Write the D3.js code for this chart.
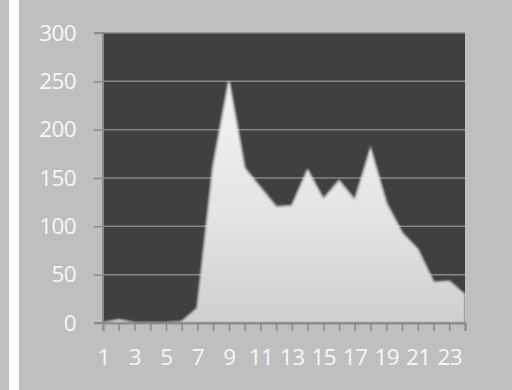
<!DOCTYPE html>
<html><head><meta charset="utf-8">
<script src="https://cdn.jsdelivr.net/npm/d3@7"></script>
<style>html,body{margin:0;padding:0;background:#bfbfbf;}svg{display:block;}</style>
</head><body>
<script>
const categories = d3.range(1, 25);
const values = [0, 3, 0, 0, 0, 1, 15, 162, 250, 160, 140, 120, 121, 158, 128, 147, 127, 180, 124, 93, 76, 42, 43, 29];
const yTicks = [0, 50, 100, 150, 200, 250, 300];
const xTickLabels = categories.filter(c => c % 2 === 1);

const W = 512, H = 390;
const svg = d3.select("body").append("svg").attr("width", W).attr("height", H);
svg.append("rect").attr("width", W).attr("height", H).attr("fill", "#bfbfbf");
svg.append("rect").attr("x", 9).attr("y", 0).attr("width", 10).attr("height", H).attr("fill", "#ffffff");

const L = 103, R = 465, T = 33, B = 323;
const x = d3.scalePoint().domain(categories).range([L, R]);
const y = d3.scaleLinear().domain([0, 300]).range([B, T]);

svg.append("rect").attr("x", L).attr("y", T).attr("width", R - L).attr("height", B - T).attr("fill", "#404040");

svg.append("g").selectAll("line").data(yTicks.filter(d => d > 0)).join("line")
  .attr("x1", L).attr("x2", R).attr("y1", d => y(d)).attr("y2", d => y(d))
  .attr("stroke", "#858585").attr("stroke-width", 1.5);

const defs = svg.append("defs");
const grad = defs.append("linearGradient").attr("id", "g").attr("x1", 0).attr("y1", 0).attr("x2", 0).attr("y2", 1);
grad.append("stop").attr("offset", "0%").attr("stop-color", "#f4f4f4");
grad.append("stop").attr("offset", "60%").attr("stop-color", "#e2e2e2");
grad.append("stop").attr("offset", "100%").attr("stop-color", "#cfcfcf");
const f = defs.append("filter").attr("id", "soft").attr("x", "-5%").attr("y", "-5%").attr("width", "110%").attr("height", "110%");
f.append("feGaussianBlur").attr("stdDeviation", 0.8);

const area = d3.area().x((d, i) => x(categories[i])).y0(B).y1(d => y(d));
svg.append("path").datum(values).attr("d", area).attr("fill", "url(#g)").attr("filter", "url(#soft)");
svg.append("path").datum(values).attr("d", d3.line().x((d, i) => x(categories[i])).y(d => y(d)))
  .attr("fill", "none").attr("stroke", "#ffffff").attr("stroke-opacity", 0.6).attr("stroke-width", 2).attr("filter", "url(#soft)");

const yAxis = d3.axisLeft(y).tickValues(yTicks).tickSize(9).tickPadding(18);
const gy = svg.append("g").attr("transform", `translate(${L},0)`).call(yAxis);
const xAxis = d3.axisBottom(x).tickSize(8).tickPadding(18)
  .tickFormat(d => xTickLabels.includes(d) ? d : "");
const gx = svg.append("g").attr("transform", `translate(0,${B})`).call(xAxis);
[gx, gy].forEach(g => {
  g.select(".domain").attr("stroke", "#8a8a8a").attr("stroke-width", 2);
  g.selectAll(".tick line").attr("stroke", "#8a8a8a").attr("stroke-width", 1.5);
  g.selectAll("text").attr("fill", "#f7f7f7").attr("font-family", "'Open Sans', sans-serif")
    .attr("font-size", 22.5).attr("letter-spacing", -0.6);
});
gy.select(".domain").attr("d", `M-9,${T}H0V${B}H-9`);
</script>
</body></html>
